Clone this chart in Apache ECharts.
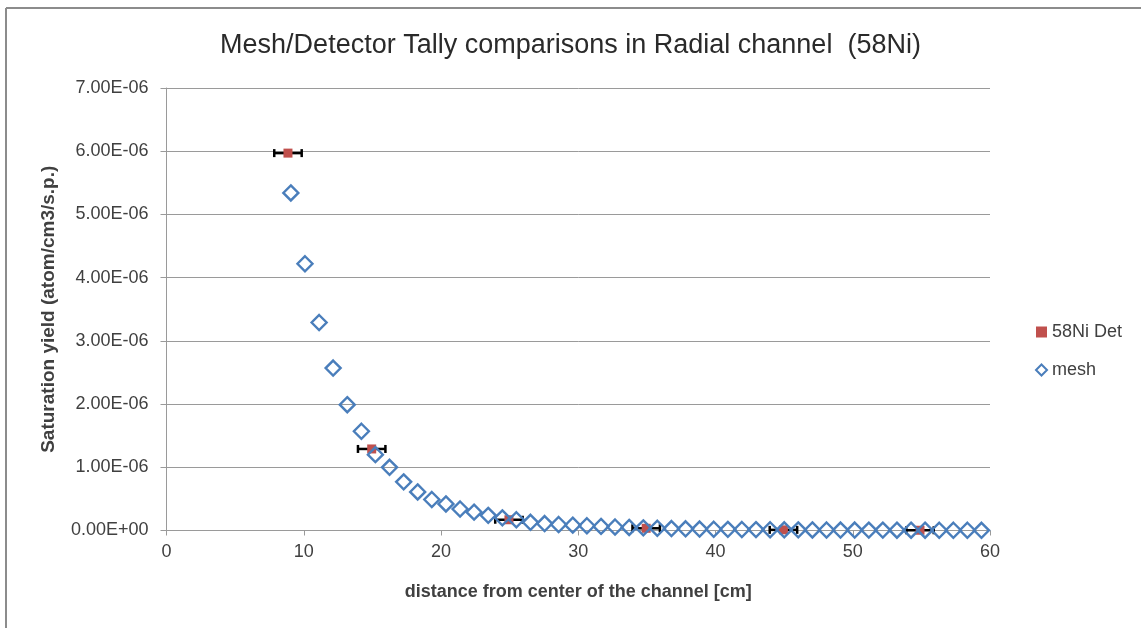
<!DOCTYPE html>
<html>
<head>
<meta charset="utf-8">
<script src="https://cdn.jsdelivr.net/npm/echarts@6/dist/echarts.min.js"></script>
<style>
  html, body { margin: 0; padding: 0; background: #fff; }
  #chart { width: 1141px; height: 628px; }
</style>
</head>
<body>
<div id="chart"></div>
<script>
// Mesh tally (distance in cm, saturation yield)
const meshX = [9.06, 10.09, 11.12, 12.14, 13.17, 14.20, 15.22, 16.25, 17.28, 18.30,
    19.33, 20.36, 21.39, 22.41, 23.44, 24.47, 25.49, 26.52, 27.55, 28.57,
    29.60, 30.63, 31.66, 32.68, 33.71, 34.74, 35.76, 36.79, 37.82, 38.84,
    39.87, 40.90, 41.92, 42.95, 43.98, 45.01, 46.03, 47.06, 48.09, 49.11,
    50.14, 51.17, 52.19, 53.22, 54.25, 55.27, 56.30, 57.33, 58.35, 59.38];
const meshY = [5.34e-6, 4.22e-6, 3.29e-6, 2.57e-6, 1.99e-6, 1.57e-6, 1.20e-6, 1.00e-6, 0.77e-6, 0.61e-6,
    0.49e-6, 0.42e-6, 0.34e-6, 0.29e-6, 0.24e-6, 0.20e-6, 0.17e-6, 0.13e-6, 0.11e-6, 0.095e-6,
    0.085e-6, 0.075e-6, 0.065e-6, 0.055e-6, 0.048e-6, 0.042e-6, 0.036e-6, 0.031e-6, 0.027e-6, 0.023e-6,
    0.020e-6, 0.018e-6, 0.016e-6, 0.014e-6, 0.012e-6, 0.011e-6, 0.010e-6, 0.009e-6, 0.008e-6, 0.007e-6,
    0.007e-6, 0.006e-6, 0.006e-6, 0.005e-6, 0.005e-6, 0.005e-6, 0.004e-6, 0.004e-6, 0.004e-6, 0.003e-6];

// Detecteur 58Ni, avec erreur horizontale
const detX = [8.85, 14.95, 24.95, 34.95, 44.95, 54.9];
const detY = [5.97e-6, 1.29e-6, 0.17e-6, 0.035e-6, 0.01e-6, 0.004e-6];
const detXErr = [1.0, 1.0, 1.0, 1.0, 1.0, 1.0];

const titleText = 'Mesh/Detector Tally comparisons in Radial channel  (58Ni)';
const xName = 'distance from center of the channel [cm]';
const yName = 'Saturation yield (atom/cm3/s.p.)';

const FONT = '"Liberation Sans", Arial, sans-serif';
const TXT = '#404040';

// format Excel : 7.00E-06
function sci(v) {
    if (v === 0) return '0.00E+00';
    const [m, e] = v.toExponential(2).split('e');
    const n = parseInt(e, 10);
    return m + 'E' + (n < 0 ? '-' : '+') + String(Math.abs(n)).padStart(2, '0');
}

const chart = echarts.init(document.getElementById('chart'));

chart.setOption({
    animation: false,
    title: {
        text: titleText,
        left: 'center',
        top: 27,
        textStyle: { fontFamily: FONT, fontSize: 27, fontWeight: 'normal', color: '#2a2a2a' }
    },
    legend: {
        orient: 'vertical',
        left: 1030,
        top: 318,
        itemGap: 20,
        itemWidth: 11,
        itemHeight: 11,
        textStyle: { fontFamily: FONT, fontSize: 18, color: TXT },
        data: ['58Ni Det', 'mesh']
    },
    grid: { left: 166.5, right: 151, top: 88, bottom: 97.5, containLabel: false },
    xAxis: {
        type: 'value',
        min: 0, max: 60, interval: 10,
        name: xName,
        nameLocation: 'middle',
        nameGap: 53,
        nameTextStyle: { fontFamily: FONT, fontSize: 18, fontWeight: 'bold', color: TXT },
        axisLine: { lineStyle: { color: '#9a9a9a' } },
        axisTick: { show: true, length: 5, inside: false, lineStyle: { color: '#9a9a9a' } },
        axisLabel: { fontFamily: FONT, fontSize: 18, color: TXT, margin: 13 },
        splitLine: { show: false }
    },
    yAxis: {
        type: 'value',
        min: 0, max: 7e-6, interval: 1e-6,
        name: yName,
        nameLocation: 'middle',
        nameGap: 108,
        nameTextStyle: { fontFamily: FONT, fontSize: 19, fontWeight: 'bold', color: TXT },
        axisLine: { show: true, lineStyle: { color: '#9a9a9a' } },
        axisTick: { show: true, length: 6, lineStyle: { color: '#9a9a9a' } },
        axisLabel: { fontFamily: FONT, fontSize: 18, color: TXT, margin: 18, formatter: sci },
        splitLine: { show: true, lineStyle: { color: '#9a9a9a', width: 1 } }
    },
    graphic: [
        { type: 'line', shape: { x1: 6, y1: 8, x2: 1141, y2: 8 }, style: { stroke: '#8c8c8c', lineWidth: 2 } },
        { type: 'line', shape: { x1: 6, y1: 8, x2: 6, y2: 628 }, style: { stroke: '#8c8c8c', lineWidth: 2 } }
    ],
    series: [
        {
            name: 'xerr',
            type: 'custom',
            z: 2,
            data: detX.map((x, i) => [x, detY[i], x - detXErr[i], x + detXErr[i]]),
            renderItem: function (params, api) {
                const lo = api.coord([api.value(2), api.value(1)]);
                const hi = api.coord([api.value(3), api.value(1)]);
                const c = 4;
                const st = { stroke: '#000', lineWidth: 2.5 };
                return {
                    type: 'group',
                    children: [
                        { type: 'line', shape: { x1: lo[0], y1: lo[1], x2: hi[0], y2: hi[1] }, style: st },
                        { type: 'line', shape: { x1: lo[0], y1: lo[1] - c, x2: lo[0], y2: lo[1] + c }, style: st },
                        { type: 'line', shape: { x1: hi[0], y1: hi[1] - c, x2: hi[0], y2: hi[1] + c }, style: st }
                    ]
                };
            }
        },
        {
            name: '58Ni Det',
            type: 'scatter',
            z: 3,
            symbol: 'rect',
            symbolSize: 9,
            itemStyle: { color: '#C0504D', opacity: 1 },
            data: detX.map((x, i) => [x, detY[i]])
        },
        {
            name: 'mesh',
            type: 'scatter',
            z: 4,
            symbol: 'diamond',
            symbolSize: 15,
            itemStyle: { color: 'rgba(255,255,255,0)', borderColor: '#4A7EBB', borderWidth: 2.4, opacity: 1 },
            data: meshX.map((x, i) => [x, meshY[i]])
        }
    ]
});
</script>
</body>
</html>
